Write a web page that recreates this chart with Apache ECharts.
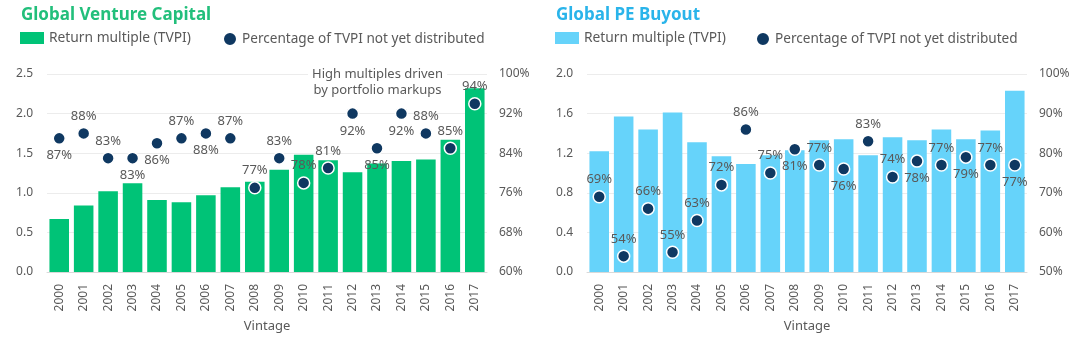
<!DOCTYPE html>
<html>
<head>
<meta charset="utf-8">
<script src="https://cdn.jsdelivr.net/npm/echarts@6/dist/echarts.min.js"></script>
<style>
  html, body { margin: 0; padding: 0; background: #ffffff; }
  #wrap { width: 1080px; height: 338px; display: flex; }
  .panel { width: 540px; height: 338px; }
</style>
</head>
<body>
<div id="wrap">
  <div id="vc" class="panel"></div>
  <div id="pe" class="panel"></div>
</div>
<script>
// Vintage years shared by both panels
const years = ['2000','2001','2002','2003','2004','2005','2006','2007','2008',
               '2009','2010','2011','2012','2013','2014','2015','2016','2017'];

// Global Venture Capital
const vcTvpi = [0.67, 0.84, 1.02, 1.12, 0.91, 0.88, 0.97, 1.07, 1.14,
                1.29, 1.48, 1.41, 1.26, 1.37, 1.40, 1.42, 1.67, 2.32];
const vcUndistributed = [87, 88, 83, 83, 86, 87, 88, 87, 77,
                         83, 78, 81, 92, 85, 92, 88, 85, 94];

// Global PE Buyout
const peTvpi = [1.22, 1.57, 1.44, 1.61, 1.31, 1.17, 1.09, 1.18, 1.23,
                1.33, 1.34, 1.18, 1.36, 1.33, 1.44, 1.34, 1.43, 1.83];
const peUndistributed = [69, 54, 66, 55, 63, 72, 86, 75, 81,
                         77, 76, 83, 74, 78, 77, 79, 77, 77];

// Tick labels
const vcLeftTicks = { min: 0, max: 2.5, interval: 0.5 };
const vcRightTicks = { min: 60, max: 100, interval: 8 };
const peLeftTicks = { min: 0, max: 2.0, interval: 0.4 };
const peRightTicks = { min: 50, max: 100, interval: 10 };

// Which side of each dot its percentage label sits on
const vcLabelSide = ['bottom','top','top','bottom','bottom','top','bottom','top','top',
                     'top','top','top','bottom','bottom','bottom','top','top','top'];
const peLabelSide = ['top','top','top','top','top','top','top','top','bottom',
                     'top','bottom','top','top','bottom','top','bottom','top','bottom'];

const FONT = '"Noto Sans", "Open Sans", sans-serif';
const GREY = '#595959';
const NAVY = '#0f3861';
const BAR_NAME = 'Return multiple (TVPI)';
const DOT_NAME = 'Percentage of TVPI not yet distributed';

function buildOption(cfg) {
  const dots = cfg.undistributed.map((v, i) => ({
    value: v,
    label: { position: cfg.labelSide[i] }
  }));
  return {
    backgroundColor: '#ffffff',
    animation: false,
    textStyle: { fontFamily: FONT },
    title: {
      text: cfg.title,
      left: cfg.titleLeft,
      top: 7,
      padding: 0,
      textStyle: { fontFamily: FONT, fontSize: 17, fontWeight: 'bold', color: cfg.titleColor }
    },
    legend: [
      {
        left: cfg.legendLeft[0], top: 31,
        padding: 0,
        itemWidth: 24, itemHeight: 12,
        icon: 'rect',
        data: [BAR_NAME],
        textStyle: { fontFamily: FONT, fontSize: 13.8, color: GREY }
      },
      {
        left: cfg.legendLeft[1], top: 31,
        padding: 0,
        itemWidth: 14, itemHeight: 14,
        icon: 'circle',
        data: [DOT_NAME],
        textStyle: { fontFamily: FONT, fontSize: 13.6, color: GREY }
      }
    ],
    grid: { left: 47, right: 53, top: 74, bottom: 66, outerBoundsMode: 'none', containLabel: false },
    xAxis: {
      type: 'category',
      data: years,
      name: 'Vintage',
      nameLocation: 'middle',
      nameGap: 47,
      nameTextStyle: { fontFamily: FONT, fontSize: 13, color: GREY },
      axisLine: { lineStyle: { color: '#d9d9d9', width: 1 } },
      axisTick: { show: false },
      axisLabel: { rotate: 90, fontSize: 12, color: GREY, margin: 12, fontFamily: FONT }
    },
    yAxis: [
      {
        type: 'value',
        min: cfg.leftTicks.min, max: cfg.leftTicks.max, interval: cfg.leftTicks.interval,
        axisLine: { show: false },
        axisTick: { show: false },
        splitLine: { lineStyle: { color: '#ececec', width: 1 } },
        axisLabel: {
          fontSize: 12, color: GREY, margin: 14, fontFamily: FONT,
          formatter: v => v.toFixed(1)
        }
      },
      {
        type: 'value',
        min: cfg.rightTicks.min, max: cfg.rightTicks.max, interval: cfg.rightTicks.interval,
        axisLine: { show: false },
        axisTick: { show: false },
        splitLine: { show: false },
        axisLabel: { fontSize: 12, color: GREY, margin: 12, fontFamily: FONT, formatter: '{value}%' }
      }
    ],
    graphic: cfg.note ? [{
      type: 'text',
      x: cfg.note.x,
      y: cfg.note.y,
      z: 10,
      style: {
        text: cfg.note.text,
        fill: GREY,
        font: '13px ' + FONT,
        align: 'center',
        verticalAlign: 'top',
        lineHeight: 16.6,
        backgroundColor: '#ffffff',
        padding: [0, 4, 0, 4]
      }
    }] : [],
    series: [
      {
        name: BAR_NAME,
        type: 'bar',
        data: cfg.tvpi,
        barCategoryGap: '20%',
        itemStyle: { color: cfg.barColor }
      },
      {
        name: DOT_NAME,
        type: 'scatter',
        yAxisIndex: 1,
        data: dots,
        symbol: 'circle',
        symbolSize: 12,
        z: 3,
        itemStyle: { color: NAVY, borderColor: '#ffffff', borderWidth: 1.5, opacity: 1 },
        label: {
          show: true,
          distance: 4,
          fontSize: 13,
          fontFamily: FONT,
          color: GREY,
          formatter: p => Math.round(p.value) + '%'
        }
      }
    ]
  };
}

const vcChart = echarts.init(document.getElementById('vc'), null, { renderer: 'canvas' });
vcChart.setOption(buildOption({
  title: 'Global Venture Capital',
  titleLeft: 21,
  titleColor: '#22bf7b',
  barColor: '#00c377',
  legendLeft: [20, 222],
  tvpi: vcTvpi,
  undistributed: vcUndistributed,
  labelSide: vcLabelSide,
  leftTicks: vcLeftTicks,
  rightTicks: vcRightTicks,
  note: { x: 377.5, y: 65.5, text: 'High multiples driven\nby portfolio markups' }
}));

const peChart = echarts.init(document.getElementById('pe'), null, { renderer: 'canvas' });
peChart.setOption(buildOption({
  title: 'Global PE Buyout',
  titleLeft: 16,
  titleColor: '#2ab4ea',
  barColor: '#66d3fa',
  legendLeft: [15, 215],
  tvpi: peTvpi,
  undistributed: peUndistributed,
  labelSide: peLabelSide,
  leftTicks: peLeftTicks,
  rightTicks: peRightTicks,
  note: null
}));
</script>
</body>
</html>
